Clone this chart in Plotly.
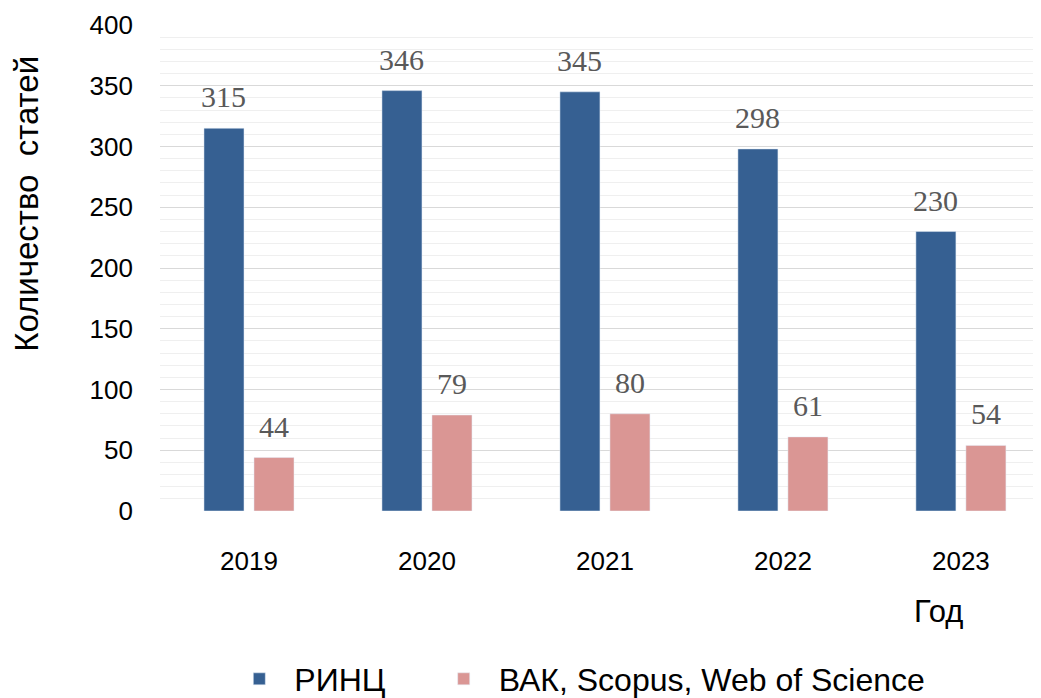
import plotly.graph_objects as go

years = ["2019", "2020", "2021", "2022", "2023"]
rinc = [315, 346, 345, 298, 230]
vak = [44, 79, 80, 61, 54]

label_font = dict(family="Liberation Serif", size=30, color="#595959")

fig = go.Figure()
fig.add_trace(go.Bar(x=years, y=rinc, name="РИНЦ", marker=dict(color="#366092"),
                     legend="legend"))
fig.add_trace(go.Bar(x=years, y=vak, name="ВАК, Scopus, Web of Science",
                     marker=dict(color="#da9694"), legend="legend2"))

# value labels above bars (Excel style, lifted a bit above the bar top)
notes = []
for i, (a, b) in enumerate(zip(rinc, vak)):
    notes.append(dict(x=i, y=a, xref="x", yref="y", text=str(a), showarrow=False,
                      xshift=-25, yshift=13, yanchor="bottom", font=label_font))
    notes.append(dict(x=i, y=b, xref="x", yref="y", text=str(b), showarrow=False,
                      xshift=25, yshift=13, yanchor="bottom", font=label_font))

notes.append(dict(text="Количество  статей", xref="paper", yref="paper",
                  x=-0.151, y=0.632, textangle=-90, showarrow=False,
                  xanchor="center", yanchor="middle", font=dict(size=33)))
notes.append(dict(text="Год", xref="paper", yref="paper",
                  x=0.884, y=-0.206, showarrow=False,
                  xanchor="center", yanchor="middle", font=dict(size=31)))

leg = dict(orientation="h", yref="container", y=0.0275, yanchor="middle",
           xanchor="left", font=dict(size=32), itemwidth=60,
           bgcolor="rgba(0,0,0,0)")

# page body has an 8px margin, so the figure is shrunk by that much
fig.update_layout(
    width=1033, height=690,
    margin=dict(l=152, r=0, t=17, b=187),
    paper_bgcolor="white", plot_bgcolor="white",
    barmode="group", bargap=0.438, bargroupgap=0.2,
    font=dict(family="Liberation Sans", color="black"),
    showlegend=True,
    legend=dict(leg, x=0.073),
    legend2=dict(leg, x=0.305),
    xaxis=dict(
        type="category", range=[-0.5, 4.45], showgrid=False, showline=False,
        zeroline=False, tickfont=dict(size=26), ticks="", ticklabelstandoff=32,
    ),
    yaxis=dict(
        range=[0, 400], dtick=50, showgrid=True, gridcolor="#d9d9d9", gridwidth=1,
        minor=dict(dtick=10, showgrid=True, gridcolor="#efefef", gridwidth=1),
        zeroline=False, showline=False, ticks="",
        tickfont=dict(size=26), ticklabelstandoff=26,
    ),
    annotations=notes,
)

fig.write_html("out.html")
